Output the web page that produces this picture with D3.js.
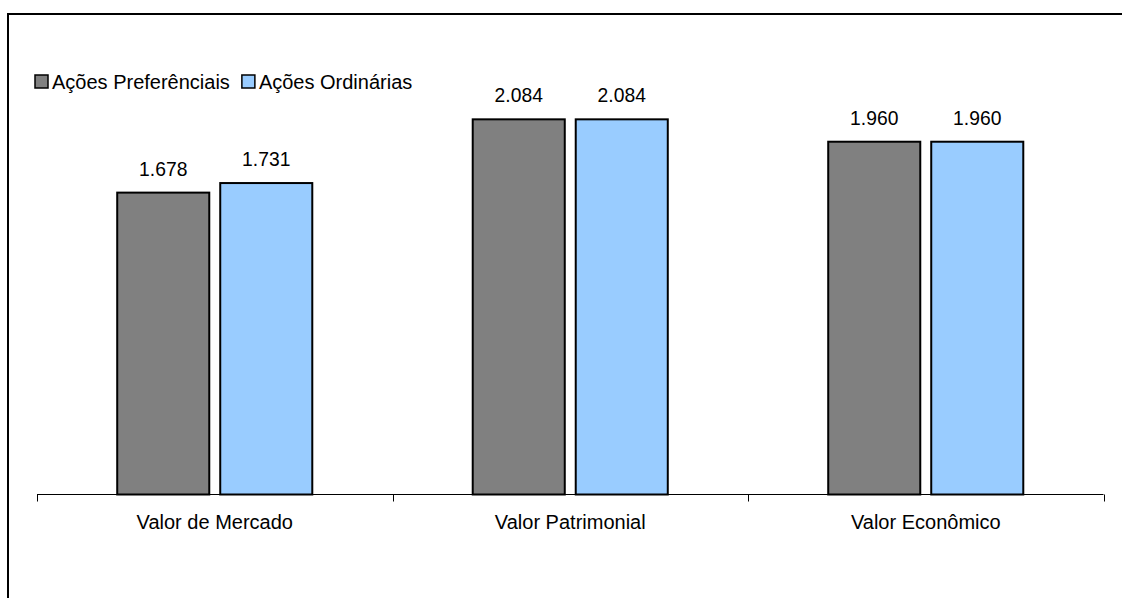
<!DOCTYPE html>
<html>
<head>
<meta charset="utf-8">
<script src="https://cdn.jsdelivr.net/npm/d3@7"></script>
<style>
  html, body { margin: 0; padding: 0; background: #fff; }
  svg { display: block; }
  text { font-family: "Liberation Sans", Arial, sans-serif; fill: #000; }
</style>
</head>
<body>
<svg id="chart" width="1122" height="598"></svg>
<script>
// Data
const categories = ["Valor de Mercado", "Valor Patrimonial", "Valor Econômico"];
const seriesNames = ["Ações Preferênciais", "Ações Ordinárias"];
const preferenciais = [1.678, 2.084, 1.960];
const ordinarias = [1.731, 2.084, 1.960];
const seriesColors = ["#808080", "#99ccff"];

const seriesValues = [preferenciais, ordinarias];
const fmt = v => d3.format(".3f")(v);

const svg = d3.select("#chart");
const W = 1122, H = 598;
const labelSize = 20;
const valueSize = 19.3;

// Outer frame (extends past the right and bottom edges)
svg.append("rect")
  .attr("x", 8).attr("y", 14)
  .attr("width", W + 10).attr("height", H + 10)
  .attr("fill", "none").attr("stroke", "#000").attr("stroke-width", 2);

// Scales
const x0 = d3.scaleBand()
  .domain(categories)
  .range([37, 1103.5])
  .paddingInner(0).paddingOuter(0);

const x1 = d3.scaleBand()
  .domain(seriesNames)
  .range([0, x0.bandwidth()])
  .paddingInner(0.087)
  .paddingOuter(0.769);

const y = d3.scaleLinear()
  .domain([0, 2.5])
  .range([494.5, 43.25]);

// Bars
const groups = svg.append("g")
  .selectAll("g")
  .data(categories)
  .join("g")
  .attr("transform", d => `translate(${x0(d)},0)`);

groups.each(function(cat, ci) {
  const g = d3.select(this);
  seriesNames.forEach((s, si) => {
    const v = seriesValues[si][ci];
    const bx = x1(s) + 1;
    const bw = x1.bandwidth() - 2;
    g.append("rect")
      .attr("x", bx)
      .attr("y", y(v) + 1)
      .attr("width", bw)
      .attr("height", y(0) - y(v) - 1)
      .attr("fill", seriesColors[si])
      .attr("stroke", "#000")
      .attr("stroke-width", 2);
    g.append("text")
      .attr("x", x1(s) + x1.bandwidth() / 2)
      .attr("y", y(v) - 16)
      .attr("text-anchor", "middle")
      .attr("font-size", valueSize)
      .text(fmt(v));
  });
});

// Category axis
const axis = d3.axisBottom(x0)
  .tickSize(0)
  .tickPadding(0)
  .tickFormat(d => d);

const axisG = svg.append("g")
  .attr("transform", `translate(0,${y(0)})`)
  .call(axis);
axisG.attr("font-size", null).attr("font-family", null);
axisG.select(".domain").remove();
axisG.selectAll(".tick line").remove();
axisG.selectAll(".tick text")
  .attr("font-size", labelSize)
  .attr("fill", "#000")
  .attr("dy", null)
  .attr("y", 34);

// Baseline with tick marks at category boundaries
svg.append("line")
  .attr("x1", x0.range()[0]).attr("x2", x0.range()[1])
  .attr("y1", y(0)).attr("y2", y(0))
  .attr("stroke", "#000").attr("stroke-width", 1);

const boundaries = categories.map(c => x0(c)).concat([x0.range()[1]]);
svg.append("g").selectAll("line")
  .data(boundaries)
  .join("line")
  .attr("x1", d => Math.round(d) + 0.5).attr("x2", d => Math.round(d) + 0.5)
  .attr("y1", y(0)).attr("y2", y(0) + 7)
  .attr("stroke", "#000").attr("stroke-width", 1);

// Legend
const legend = svg.append("g");
let lx = 35;
seriesNames.forEach((s, i) => {
  legend.append("rect")
    .attr("x", lx).attr("y", 75)
    .attr("width", 13).attr("height", 13)
    .attr("fill", seriesColors[i])
    .attr("stroke", "#000").attr("stroke-width", 1.5);
  const t = legend.append("text")
    .attr("x", lx + 17).attr("y", 88.5)
    .attr("font-size", labelSize)
    .text(s);
  lx = lx + 17 + t.node().getComputedTextLength() + 12;
});
</script>
</body>
</html>
